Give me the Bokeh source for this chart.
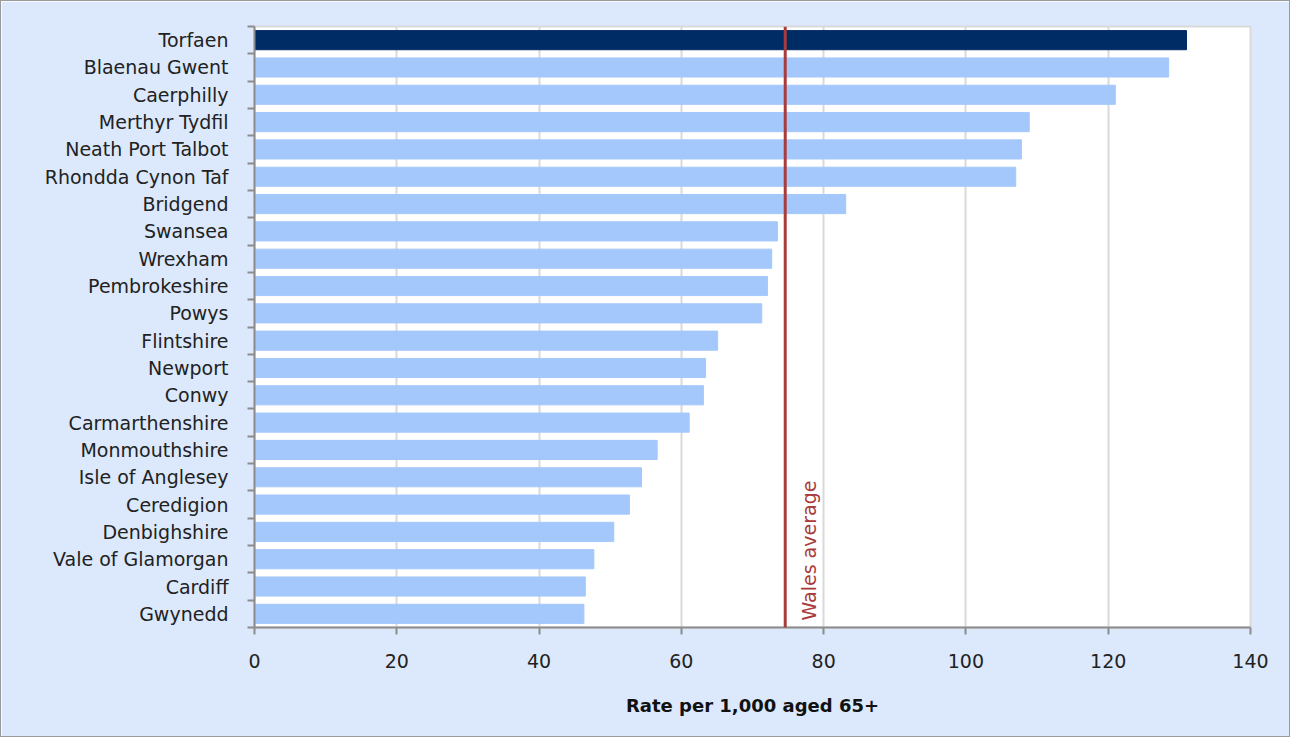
from bokeh.plotting import figure
from bokeh.models import Range1d, FixedTicker, Span, Label
from bokeh.embed import file_html
from bokeh.resources import INLINE
import math

areas = ["Torfaen", "Blaenau Gwent", "Caerphilly", "Merthyr Tydfil", "Neath Port Talbot",
         "Rhondda Cynon Taf", "Bridgend", "Swansea", "Wrexham", "Pembrokeshire", "Powys",
         "Flintshire", "Newport", "Conwy", "Carmarthenshire", "Monmouthshire",
         "Isle of Anglesey", "Ceredigion", "Denbighshire", "Vale of Glamorgan", "Cardiff", "Gwynedd"]
rates = [131.0, 128.5, 121.0, 108.9, 107.8, 107.0, 83.1, 73.5, 72.7, 72.1, 71.3,
         65.1, 63.4, 63.1, 61.1, 56.6, 54.4, 52.7, 50.5, 47.7, 46.5, 46.3]
highlight = "Torfaen"
wales_average = 74.6
x_ticks = [0, 20, 40, 60, 80, 100, 120, 140]

n = len(areas)
ypos = [n - 1 - i for i in range(n)]
colors = ["#002c66" if a == highlight else "#a4c8fc" for a in areas]

p = figure(width=1290, height=737, output_backend="svg", toolbar_location=None,
           x_range=Range1d(0, 140), y_range=Range1d(-0.5, n - 0.5),
           min_border_left=253, min_border_right=41, min_border_top=25, min_border_bottom=111,
           background_fill_color="white", border_fill_color="#dce9fc")
p.styles = {"border": "1px solid #9a9a9a"}
p.outline_line_color = "#d9d9d9"
p.outline_line_width = 2

p.hbar(y=ypos, right=rates, left=0, height=0.7, fill_color=colors, line_color=colors)

p.add_layout(Span(location=wales_average, dimension="height", line_color="#a83c3c", line_width=3))
p.add_layout(Label(x=wales_average, y=-0.5, x_offset=13, y_offset=7, text="Wales average",
                   angle=math.pi / 2, text_color="#a83c3c", text_font="DejaVu Sans",
                   text_font_size="19px", text_baseline="top", text_align="left"))

# x axis
p.xaxis.ticker = FixedTicker(ticks=x_ticks)
p.xaxis.axis_label = "Rate per 1,000 aged 65+"
p.xaxis.axis_label_text_font = "DejaVu Sans"
p.xaxis.axis_label_text_font_style = "bold"
p.xaxis.axis_label_text_font_size = "18px"
p.xaxis.axis_label_text_color = "#111111"
p.xaxis.axis_label_standoff = 24
p.xaxis.major_label_text_font = "DejaVu Sans"
p.xaxis.major_label_text_font_size = "19px"
p.xaxis.major_label_text_color = "#222222"
p.xaxis.major_label_standoff = 19
p.xaxis.axis_line_color = "#8c8c8c"
p.xaxis.axis_line_width = 2
p.xaxis.major_tick_line_color = "#8c8c8c"
p.xaxis.major_tick_line_width = 2
p.xaxis.major_tick_out = 7
p.xaxis.major_tick_in = 0
p.xaxis.minor_tick_line_color = None

# y axis
p.yaxis.ticker = FixedTicker(ticks=ypos, minor_ticks=[k - 0.5 for k in range(n + 1)])
p.yaxis.major_label_overrides = {y: a for y, a in zip(ypos, areas)}
p.yaxis.major_label_text_font = "DejaVu Sans"
p.yaxis.major_label_text_font_size = "19px"
p.yaxis.major_label_text_color = "#222222"
p.yaxis.major_label_standoff = 19
p.yaxis.major_tick_line_color = None
p.yaxis.major_tick_out = 0
p.yaxis.major_tick_in = 0
p.yaxis.minor_tick_line_color = "#8c8c8c"
p.yaxis.minor_tick_line_width = 2
p.yaxis.minor_tick_out = 7
p.yaxis.minor_tick_in = 0
p.yaxis.axis_line_color = "#8c8c8c"
p.yaxis.axis_line_width = 2

p.xgrid.ticker = FixedTicker(ticks=x_ticks)
p.xgrid.grid_line_color = "#d9d9d9"
p.xgrid.grid_line_width = 2
p.ygrid.grid_line_color = None

open("out.html", "w").write(file_html(p, INLINE))
